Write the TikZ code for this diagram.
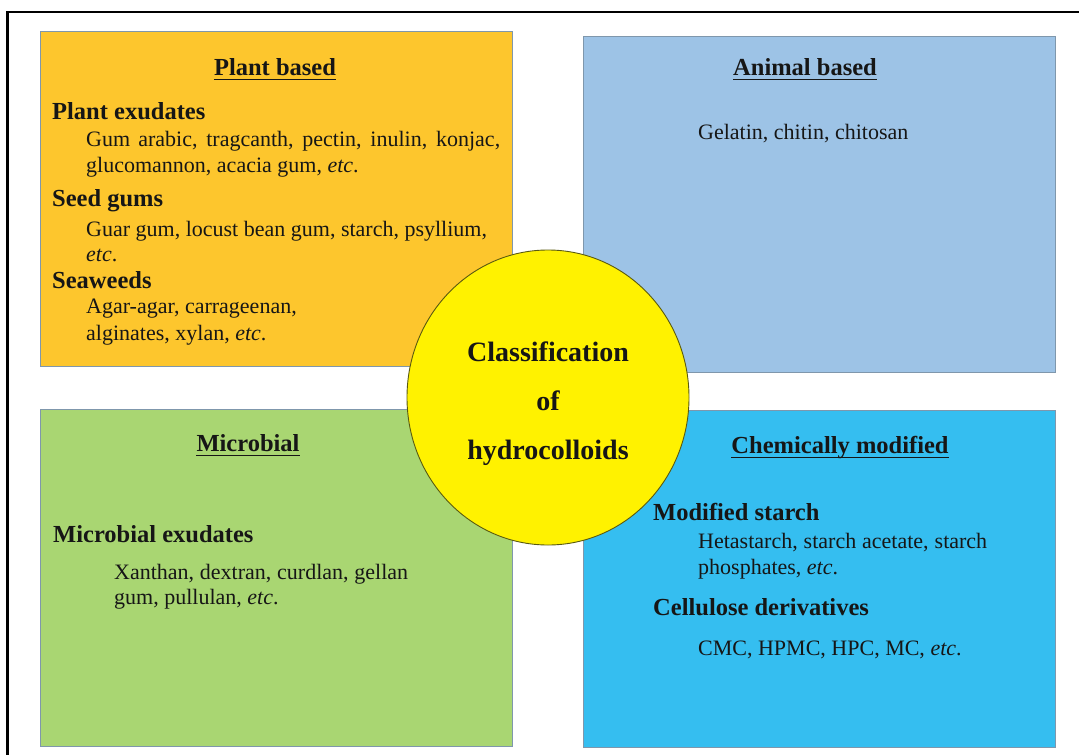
\documentclass[tikz,border=0pt]{standalone}
\usepackage{fontspec}
\setmainfont{Liberation Serif}
\usetikzlibrary{shapes.geometric}
\definecolor{plantc}{HTML}{FDC62D}
\definecolor{animalc}{HTML}{9DC3E6}
\definecolor{microc}{HTML}{A9D672}
\definecolor{chemc}{HTML}{35BEF0}
\definecolor{boxline}{HTML}{7F97AC}
\definecolor{ink}{HTML}{161616}
\definecolor{circline}{HTML}{5A5A10}
\begin{document}
\begin{tikzpicture}[x=1pt,y=-1pt,
  box/.style={draw=boxline, line width=0.9pt, rectangle, anchor=north west, inner sep=0pt},
  body/.style={anchor=base west, inner sep=0pt, font=\fontsize{22}{26}\selectfont, text=ink},
  head/.style={anchor=base west, inner sep=0pt, font=\fontsize{24.5}{28}\selectfont\bfseries, text=ink},
  titletext/.style={anchor=base, inner sep=0pt, font=\fontsize{24.5}{28}\selectfont\bfseries, text=ink},
  ctext/.style={anchor=base, inner sep=0pt, font=\fontsize{28}{32}\selectfont\bfseries, text=ink},
  ul/.style={line width=1.8pt, draw=ink}
]
\useasboundingbox (0,0) rectangle (1079,755);
\begin{scope}
\clip (0,0) rectangle (1079,755);
\draw[line width=2.6pt, black] (7.5,12) rectangle (1100,780);
\end{scope}

% boxes
\node[box, fill=plantc, minimum width=472pt, minimum height=335pt] (plant) at (39.5,31) {};
\node[box, fill=animalc, minimum width=472pt, minimum height=336pt] (animal) at (583,36) {};
\node[box, fill=microc, minimum width=472pt, minimum height=337pt] (micro) at (39.5,409) {};
\node[box, fill=chemc, minimum width=472pt, minimum height=337pt] (chem) at (583,410) {};

% circle
\node[ellipse, draw=circline, line width=0.9pt, fill=yellow, minimum width=282pt, minimum height=295pt, inner sep=0pt] (centre) at (548,397.5) {};
\node[ctext] (c1) at (548,361) {Classification};
\node[ctext] (c2) at (548,410) {of};
\node[ctext] (c3) at (548,459) {hydrocolloids};

% plant based
\node[titletext] (tplant) at (275,75) {Plant based};
\draw[ul] ([yshift=-4.5pt]tplant.base west) -- ([yshift=-4.5pt]tplant.base east);
\node[head] (h1) at (52,119) {Plant exudates};
\node[body] (p1) at (86,146) {\makebox[414pt][s]{Gum arabic, tragcanth, pectin, inulin, konjac,}};
\node[body] (p2) at (86,172) {glucomannon, acacia gum, \textit{etc}.};
\node[head] (h2) at (52,206) {Seed gums};
\node[body] (p3) at (86,236) {Guar gum, locust bean gum, starch, psyllium,};
\node[body] (p4) at (86,261) {\textit{etc}.};
\node[head] (h3) at (52,288) {Seaweeds};
\node[body] (p5) at (86,313) {Agar-agar, carrageenan,};
\node[body] (p6) at (86,340) {alginates, xylan, \textit{etc}.};

% animal based
\node[titletext] (tanimal) at (805,75) {Animal based};
\draw[ul] ([yshift=-4.5pt]tanimal.base west) -- ([yshift=-4.5pt]tanimal.base east);
\node[body] (a1) at (698,139) {Gelatin, chitin, chitosan};

% microbial
\node[titletext] (tmicro) at (248,451) {Microbial};
\draw[ul] ([yshift=-4.5pt]tmicro.base west) -- ([yshift=-4.5pt]tmicro.base east);
\node[head] (h4) at (53,542) {Microbial exudates};
\node[body] (m1) at (114,579) {\makebox[294pt][s]{Xanthan, dextran, curdlan, gellan}};
\node[body] (m2) at (114,604) {gum, pullulan, \textit{etc}.};

% chemically modified
\node[titletext] (tchem) at (840,453) {Chemically modified};
\draw[ul] ([yshift=-4.5pt]tchem.base west) -- ([yshift=-4.5pt]tchem.base east);
\node[head] (h5) at (653,520) {Modified starch};
\node[body] (s1) at (698,548) {\makebox[289pt][s]{Hetastarch, starch acetate, starch}};
\node[body] (s2) at (698,574) {phosphates, \textit{etc}.};
\node[head] (h6) at (653,615) {Cellulose derivatives};
\node[body] (s3) at (698,655) {CMC, HPMC, HPC, MC, \textit{etc}.};
\end{tikzpicture}
\end{document}
